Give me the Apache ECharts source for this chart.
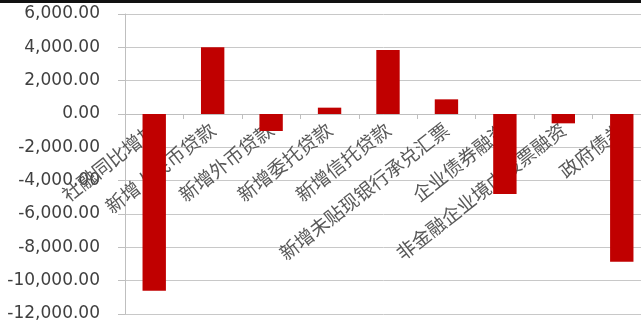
<!DOCTYPE html>
<html><head><meta charset="utf-8">
<script src="https://cdn.jsdelivr.net/npm/echarts@6/dist/echarts.min.js"></script>
<style>html,body{margin:0;padding:0;background:#fff;}#c{width:641px;height:327px;}</style>
</head><body><div id="c"></div>
<script>
const categories = ['社融同比增加','新增人民币贷款','新增外币贷款','新增委托贷款','新增信托贷款','新增未贴现银行承兑汇票','企业债券融资','非金融企业境内股票融资','政府债券'];
const values = [-10600, 4000, -1020, 380, 3840, 880, -4800, -560, -8860];
const yMin = -12000, yMax = 6000, yStep = 2000;

const chart = echarts.init(document.getElementById('c'), null, {renderer:'canvas'});
chart.setOption({
  animation:false,
  backgroundColor:'#fff',
  graphic:[{type:'rect', shape:{x:0,y:0,width:641,height:3}, style:{fill:'#111'}}],
  grid:{left:125, top:14, width:526, height:300, containLabel:false, outerBoundsMode:'none'},
  xAxis:{
    type:'category', data:categories, position:'bottom', offset:-200,
    axisLine:{onZero:false, lineStyle:{color:'#bfbfbf', width:1}},
    axisTick:{show:true, length:5, alignWithLabel:false, lineStyle:{color:'#bfbfbf'}},
    axisLabel:{rotate:38, interval:0, margin:13, color:'#595959', fontSize:19, fontFamily:'Noto Sans CJK SC'},
    splitLine:{show:false}
  },
  yAxis:{
    type:'value', min:yMin, max:yMax, interval:yStep,
    axisLine:{show:true, lineStyle:{color:'#bfbfbf'}},
    axisTick:{show:true, length:7, lineStyle:{color:'#bfbfbf'}},
    axisLabel:{margin:25, color:'#404040', fontSize:17, fontFamily:'DejaVu Sans',
      formatter:v=>v.toLocaleString('en-US',{minimumFractionDigits:2, maximumFractionDigits:2})},
    splitLine:{show:true, lineStyle:{color:'#c8c8c8', width:1}}
  },
  series:[{type:'bar', data:values, barWidth:'40%', itemStyle:{color:'#c00000'}}]
});
</script></body></html>
